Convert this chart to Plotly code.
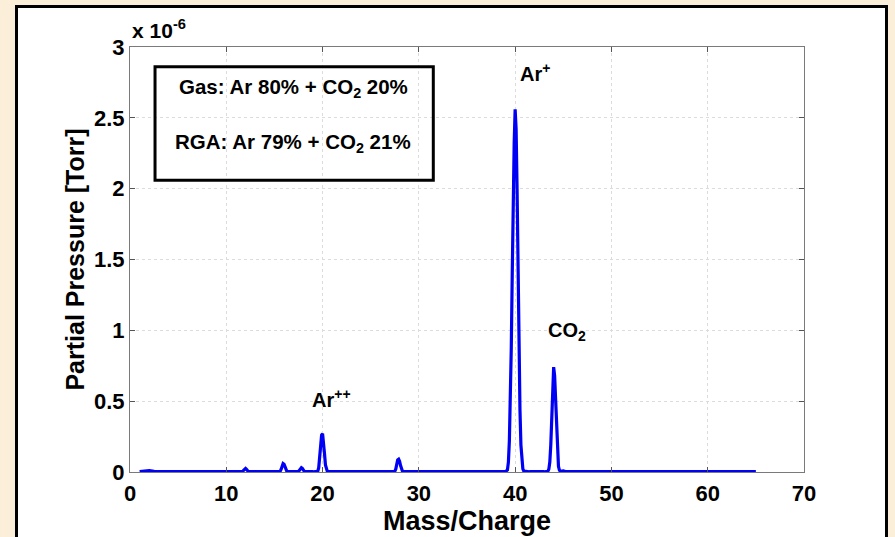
import plotly.graph_objects as go

# RGA spectrum: mass/charge vs partial pressure (units of 1e-6 Torr)
mass = [
    1.0, 1.5, 2.0, 2.5, 3.0, 5.0, 8.0, 11.0,
    11.7, 11.8, 11.9, 12.0, 12.1, 12.2, 12.3, 13.0, 15.0,
    15.6, 15.7, 15.8, 15.9, 16.0, 16.1, 16.2, 16.3, 17.0,
    17.5, 17.6, 17.7, 17.8, 17.9, 18.0, 18.1, 19.0,
    19.5, 19.6, 19.7, 19.8, 19.9, 20.0, 20.1, 20.2, 20.3, 20.4, 20.5, 21.0,
    21.8, 22.0, 22.2, 24.0, 27.0,
    27.5, 27.6, 27.7, 27.8, 27.9, 28.0, 28.1, 28.2, 28.3, 29.0,
    31.8, 32.0, 32.2, 34.0, 35.8, 36.0, 36.2, 38.0, 39.0,
    39.2, 39.3, 39.4, 39.5, 39.6, 39.7, 39.8, 39.9, 40.0, 40.1, 40.2, 40.3,
    40.4, 40.5, 40.6, 40.7, 40.8, 40.9, 41.5, 43.0,
    43.4, 43.5, 43.6, 43.7, 43.8, 43.9, 44.0, 44.1, 44.2, 44.3, 44.4, 44.5,
    44.6, 44.7, 45.0, 45.3, 47.0, 50.0, 55.0, 60.0, 65.0,
]
pressure = [
    0.003, 0.008, 0.010, 0.004, 0.002, 0.002, 0.002, 0.002,
    0.003, 0.012, 0.022, 0.025, 0.018, 0.007, 0.002, 0.002, 0.002,
    0.005, 0.020, 0.045, 0.060, 0.055, 0.035, 0.012, 0.003, 0.002,
    0.003, 0.012, 0.025, 0.030, 0.025, 0.012, 0.004, 0.002,
    0.005, 0.030, 0.100, 0.200, 0.260, 0.270, 0.220, 0.130, 0.050, 0.015, 0.003, 0.002,
    0.002, 0.006, 0.002, 0.002, 0.002,
    0.005, 0.020, 0.055, 0.085, 0.090, 0.075, 0.045, 0.018, 0.005, 0.002,
    0.002, 0.007, 0.002, 0.002, 0.002, 0.006, 0.002, 0.002, 0.002,
    0.015, 0.070, 0.220, 0.480, 0.880, 1.400, 1.980, 2.320, 2.560, 2.420, 2.000, 1.420,
    0.860, 0.440, 0.190, 0.070, 0.022, 0.006, 0.002, 0.002,
    0.005, 0.020, 0.070, 0.190, 0.400, 0.630, 0.740, 0.680, 0.500, 0.280, 0.120, 0.040,
    0.012, 0.005, 0.008, 0.002, 0.002, 0.002, 0.002, 0.002, 0.002,
]

x_ticks = [0, 10, 20, 30, 40, 50, 60, 70]
y_ticks = [0, 0.5, 1, 1.5, 2, 2.5, 3]
y_tick_text = ["0", "0.5", "1", "1.5", "2", "2.5", "3"]

FONT = "Liberation Sans, Arial, sans-serif"
BEIGE = "#fcefd9"

fig = go.Figure()
fig.add_trace(go.Scatter(
    x=mass, y=pressure, mode="lines",
    line=dict(color="#0000f5", width=3.2),
    showlegend=False, hoverinfo="x+y",
))

axis_common = dict(
    showline=True, linecolor="#7a7a7a", linewidth=1, mirror="ticks",
    ticks="inside", ticklen=5, tickcolor="#555555", tickwidth=1,
    showgrid=True, gridcolor="#dcdcdc", griddash="dot", gridwidth=1,
    zeroline=False,
    tickfont=dict(family=FONT, size=22, color="black", weight="bold"),
)

fig.update_xaxes(
    range=[0, 70], tickvals=x_ticks, ticktext=[str(v) for v in x_ticks],
    title=dict(text="Mass/Charge", standoff=5,
               font=dict(family=FONT, size=27, color="black", weight="bold")),
    ticklabelstandoff=2,
    **axis_common,
)
fig.update_yaxes(
    range=[0, 3], tickvals=y_ticks, ticktext=y_tick_text,
    title=dict(text="Partial Pressure [Torr]", standoff=2,
               font=dict(family=FONT, size=25, color="black", weight="bold")),
    ticklabelstandoff=0,
    **axis_common,
)

# white panel with black frame behind the axes
fig.add_shape(
    type="rect", xref="paper", yref="paper",
    x0=-0.1684, x1=1.1224, y0=-0.3, y1=1.0953,
    fillcolor="white", line=dict(color="black", width=3), layer="below",
)

# composition box
fig.add_shape(
    type="rect", xref="x", yref="y",
    x0=2.6, x1=31.5, y0=2.06, y1=2.86,
    fillcolor="rgba(0,0,0,0)", line=dict(color="black", width=3),
)

label_font = dict(family=FONT, size=20, color="black", weight="bold")
box_font = dict(family=FONT, size=20.5, color="black", weight="bold")
fig.add_annotation(x=16.95, y=2.71, xref="x", yref="y", showarrow=False,
                   text="Gas: Ar 80% + CO<sub>2</sub> 20%", font=box_font,
                   xanchor="center", yanchor="middle")
fig.add_annotation(x=16.95, y=2.32, xref="x", yref="y", showarrow=False,
                   text="RGA: Ar 79% + CO<sub>2</sub> 21%", font=box_font,
                   xanchor="center", yanchor="middle")

# peak labels
fig.add_annotation(x=40.3, y=2.82, xref="x", yref="y", showarrow=False,
                   text="Ar<sup>+</sup>", font=label_font,
                   xanchor="left", yanchor="middle")
fig.add_annotation(x=43.2, y=0.99, xref="x", yref="y", showarrow=False,
                   text="CO<sub>2</sub>", font=label_font,
                   xanchor="left", yanchor="middle")
fig.add_annotation(x=18.7, y=0.52, xref="x", yref="y", showarrow=False,
                   text="Ar<sup>++</sup>", font=label_font,
                   xanchor="left", yanchor="middle")

# axis exponent
fig.add_annotation(x=0.0, y=1.0, xref="paper", yref="paper", showarrow=False,
                   text="x 10<sup>-6</sup>",
                   font=dict(family=FONT, size=21, color="black", weight="bold"),
                   xanchor="left", yanchor="bottom", yshift=3)

fig.update_layout(
    width=895, height=537,
    margin=dict(l=130, r=91, t=47, b=65, autoexpand=False),
    paper_bgcolor=BEIGE, plot_bgcolor="white",
    font=dict(family=FONT, color="black"),
)

fig.write_html("out.html")
